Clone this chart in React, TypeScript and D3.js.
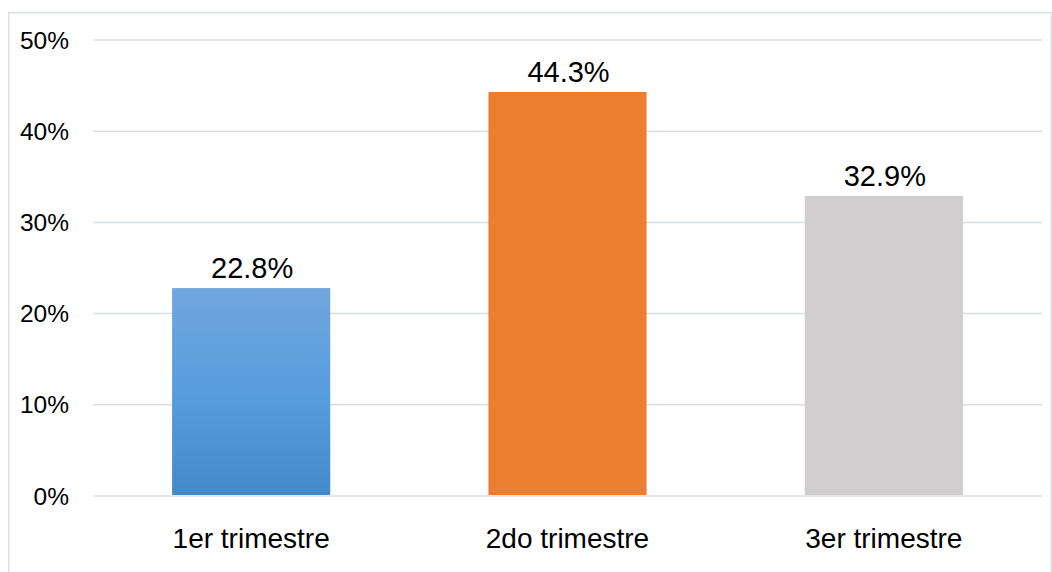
import React from "react";
import * as d3 from "d3";

const categories = ["1er trimestre", "2do trimestre", "3er trimestre"];
const values = [0.228, 0.443, 0.329];
const valueLabels = ["22.8%", "44.3%", "32.9%"];
const yTicks = [0, 0.1, 0.2, 0.3, 0.4, 0.5];
const colors = ["url(#blueGrad)", "#ED7D31", "#D0CECE"];

export default function App() {
  const W = 1052, H = 572;
  const left = 93, right = 1042, top = 40, bottom = 496;
  const x = d3.scaleBand<string>().domain(categories).range([left, right]).paddingInner(0.5).paddingOuter(0.25);
  const y = d3.scaleLinear().domain([0, 0.5]).range([bottom, top]);
  const font = "'Liberation Sans', Arial, sans-serif";
  return (
    <svg width={W} height={H} style={{ position: "absolute", left: 0, top: 0, background: "#fff" }}>
      <defs>
        <linearGradient id="blueGrad" x1="0" y1="0" x2="0" y2="1">
          <stop offset="0%" stopColor="#71a7dd" />
          <stop offset="50%" stopColor="#589dde" />
          <stop offset="100%" stopColor="#448ac9" />
        </linearGradient>
      </defs>
      <rect x={8.75} y={12.75} width={1042.5} height={600} fill="#fff" stroke="#dde2e9" strokeWidth={1.5} />
      {yTicks.map((t) => (
        <g key={t}>
          <line x1={left} x2={right} y1={y(t)} y2={y(t)} stroke="#dadee4" strokeWidth={1.5} />
          <text x={69} y={y(t)} dy="0.35em" textAnchor="end" fontFamily={font} fontSize={24.5} fill="#000">
            {`${Math.round(t * 100)}%`}
          </text>
        </g>
      ))}
      {categories.map((c, i) => (
        <g key={c}>
          <rect x={x(c)} y={y(values[i])} width={x.bandwidth()} height={y(0) - y(values[i]) - 1} fill={colors[i]} />
          <text x={(x(c) as number) + x.bandwidth() / 2 + 1} y={y(values[i]) - 10} textAnchor="middle" fontFamily={font} fontSize={29} fill="#000">
            {valueLabels[i]}
          </text>
          <text x={(x(c) as number) + x.bandwidth() / 2} y={548} textAnchor="middle" fontFamily={font} fontSize={28} fill="#000">
            {c}
          </text>
        </g>
      ))}
    </svg>
  );
}
